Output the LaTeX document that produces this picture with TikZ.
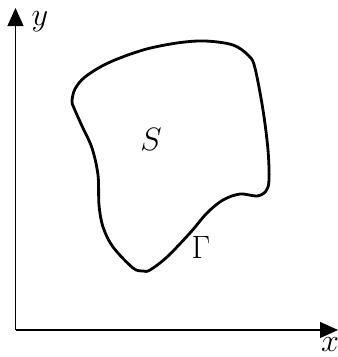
\documentclass[tikz,border=0pt]{standalone}
\usetikzlibrary{arrows.meta}
\begin{document}
\begin{tikzpicture}[x=1pt,y=-1pt,
  axis/.style={line width=1.3pt,-{Triangle[length=18pt,width=16pt]}},
  bnd/.style={line width=2.8pt},
  lbl/.style={font=\Huge,scale=1.3,inner sep=0pt}]
\useasboundingbox (0,0) rectangle (338,357);
\coordinate (o) at (15.5,330);
\coordinate (ytip) at (15.5,8);
\coordinate (xtip) at (338,330);
\draw[axis] (o) -- (ytip);
\draw[axis] (o) -- (xtip);
\node[lbl] (ylab) at (40,22) {$y$};
\node[lbl] (xlab) at (330,345) {$x$};
\draw[bnd] plot[smooth cycle, tension=0.55] coordinates {
 (72,101) (75,89) (85,77) (108,63) (143,50) (177,43) (205,41) (233,45) (249,56)
 (255,68) (263,110) (268,150) (269,180) (266,191) (257,196)
 (240,194) (223,200) (207,213) (190,233) (167,257) (150,270) (143,271)
 (133,268) (113,247) (103,227) (99,205) (98,175) (92,148) (82,126) (74,108)};
\node[lbl] (S) at (151,139) {$S$};
\node[lbl] (G) at (201,247) {$\Gamma$};
\end{tikzpicture}
\end{document}
